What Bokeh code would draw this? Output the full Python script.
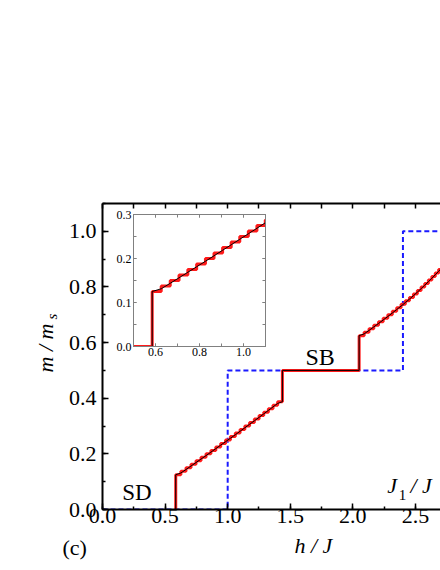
import math
from bokeh.plotting import figure
from bokeh.models import (Range1d, LinearAxis, SingleIntervalTicker, PrintfTickFormatter,
                          CustomJSTickFormatter, Label, InlineStyleSheet)
from bokeh.embed import file_html
from bokeh.resources import INLINE

# ---------------- data ----------------
h_start = 0.585
# lower branch: field at which each magnetization level starts, and the level
h_low = [0.585, 0.626, 0.667, 0.707, 0.747, 0.787, 0.827, 0.866, 0.905, 0.944, 0.983,
         1.022, 1.061, 1.099, 1.137, 1.175, 1.213, 1.251, 1.288, 1.325, 1.362, 1.399]
m_low = [0.125, 0.1375, 0.15, 0.1625, 0.175, 0.1875, 0.2, 0.2125, 0.225, 0.2375, 0.25,
         0.2625, 0.275, 0.2875, 0.3, 0.3125, 0.325, 0.3375, 0.35, 0.3625, 0.375, 0.3875]
h_half = 1.437
m_half = 0.5
# upper branch
h_up = [2.050, 2.090, 2.129, 2.167, 2.205, 2.242, 2.279, 2.315, 2.350, 2.385, 2.419,
        2.452, 2.484, 2.515, 2.545, 2.574, 2.603, 2.631, 2.658, 2.685, 2.711, 2.737]
m_up = [0.625, 0.6375, 0.65, 0.6625, 0.675, 0.6875, 0.7, 0.7125, 0.725, 0.7375, 0.75,
        0.7625, 0.775, 0.7875, 0.8, 0.8125, 0.825, 0.8375, 0.85, 0.8625, 0.875, 0.8875]
h_end = 2.76
# classical (blue dashed) curve
cl_h = [0.0, 1.0, 2.4, 2.76]
cl_m = [0.0, 0.5, 1.0, 1.0]

# staircase (red)
step_h = [h_start] + h_low + [h_half] + h_up + [h_end]
step_m = [0.0] + m_low + [m_half] + m_up + [m_up[-1]]
inset_step_h = [0.0] + step_h
inset_step_m = [0.0] + step_m
# smooth curve (black) through the middle of each riser
half = (m_low[1] - m_low[0]) / 2
line_h = [0.0, h_low[0], h_low[0]] + h_low[1:] + [h_half, h_half] + [h_up[0], h_up[0]] + h_up[1:]
line_m = ([0.0, 0.0, m_low[0]] + [m - half for m in m_low[1:]] + [m_low[-1], m_half]
          + [m_half, m_up[0]] + [m - half for m in m_up[1:]])

FONT = "Liberation Serif"
W, H = 440, 562

# ---------------- main figure ----------------
p = figure(width=W, height=H, x_range=Range1d(0, 2.70), y_range=Range1d(0, 1.1),
           output_backend="svg", toolbar_location=None,
           min_border_left=102, min_border_right=0, min_border_top=203, min_border_bottom=53)
p.grid.visible = False
p.outline_line_color = None
p.background_fill_color = "white"
p.border_fill_color = "white"

def style_axis(ax, size, standoff, tick_in=6, minor_in=3, width=2, color="black"):
    ax.axis_line_width = width
    ax.axis_line_color = color
    ax.major_tick_in = tick_in
    ax.major_tick_out = 0
    ax.minor_tick_in = minor_in
    ax.minor_tick_out = 0
    ax.major_tick_line_width = 1.5 if width >= 2 else 1
    ax.minor_tick_line_width = 1.5 if width >= 2 else 1
    ax.major_tick_line_color = color
    ax.minor_tick_line_color = color
    ax.major_label_text_font = FONT
    ax.major_label_text_font_size = size
    ax.major_label_text_color = "black"
    ax.major_label_standoff = standoff

xa = p.xaxis[0]
xa.ticker = SingleIntervalTicker(interval=0.5, num_minor_ticks=2)
xa.formatter = PrintfTickFormatter(format="%.1f")
style_axis(xa, "22px", -1)

ya = p.yaxis[0]
ya.ticker = SingleIntervalTicker(interval=0.2, num_minor_ticks=2)
ya.formatter = PrintfTickFormatter(format="%.1f")
style_axis(ya, "22px", 6)

top = LinearAxis(ticker=SingleIntervalTicker(interval=0.25, num_minor_ticks=2),
                 formatter=CustomJSTickFormatter(code="return ''"))
style_axis(top, "1px", 0, tick_in=5)
top.minor_tick_line_color = None
p.add_layout(top, "above")

p.step(cl_h, cl_m, mode="after", line_color="#1a1aff", line_width=2, line_dash="5 3")
p.step(step_h, step_m, mode="after", line_color="#ff1a1a", line_width=3)
p.line(line_h, line_m, line_color="black", line_width=1)

def lab(fig, x, y, text, size, style="normal", angle=0.0, align="left"):
    fig.add_layout(Label(x=x, y=y, text=text, text_font=FONT, text_font_size=size,
                         text_font_style=style, angle=angle, text_align=align,
                         text_baseline="alphabetic", text_color="black"))

lab(p, 1.621, 0.550, "SB", "24px")
lab(p, 0.157, 0.061, "SD", "23px")
lab(p, 2.274, 0.087, "J", "22px", "italic")
lab(p, 2.367, 0.053, "1", "15px")
lab(p, 2.46, 0.087, "/ J", "22px", "italic")

# ---------------- inset ----------------
css = ":host { position: absolute !important; left: 103px !important; top: 199px !important; }"
ins = figure(width=177, height=172, x_range=Range1d(0.5, 1.1), y_range=Range1d(0, 0.3001),
             output_backend="svg", toolbar_location=None,
             min_border_left=30, min_border_right=15, min_border_top=15, min_border_bottom=25,
             stylesheets=[InlineStyleSheet(css=css)])
ins.grid.visible = False
ins.background_fill_color = None
ins.border_fill_color = None
ins.outline_line_color = "#808080"
ins.outline_line_width = 1

ixa = ins.xaxis[0]
ixa.ticker = SingleIntervalTicker(interval=0.2, num_minor_ticks=2)
ixa.formatter = PrintfTickFormatter(format="%.1f")
style_axis(ixa, "12px", 1, tick_in=3, minor_in=3, width=1, color="#808080")
iya = ins.yaxis[0]
iya.ticker = SingleIntervalTicker(interval=0.1, num_minor_ticks=2)
iya.formatter = PrintfTickFormatter(format="%.1f")
style_axis(iya, "12px", 2, tick_in=3, minor_in=3, width=1, color="#808080")

itop = LinearAxis(ticker=SingleIntervalTicker(interval=0.2, num_minor_ticks=2),
                  formatter=CustomJSTickFormatter(code="return ''"))
style_axis(itop, "1px", 0, tick_in=3, minor_in=3, width=1, color="#808080")
ins.add_layout(itop, "above")
iright = LinearAxis(ticker=SingleIntervalTicker(interval=0.1, num_minor_ticks=2),
                    formatter=CustomJSTickFormatter(code="return ''"))
style_axis(iright, "1px", 0, tick_in=3, minor_in=3, width=1, color="#808080")
ins.add_layout(iright, "right")

ins.step(inset_step_h, inset_step_m, mode="after", line_color="#ff1a1a", line_width=3)
ins.line(line_h, line_m, line_color="black", line_width=1)

# ---------------- overlay for the texts outside the main frame ----------------
css2 = ":host { position: absolute !important; left: 0px !important; top: 0px !important; }"
ov = figure(width=W, height=H, x_range=Range1d(0, W), y_range=Range1d(H, 0),
            output_backend="svg", toolbar_location=None,
            x_axis_location=None, y_axis_location=None,
            min_border_left=0, min_border_right=0, min_border_top=0, min_border_bottom=0,
            stylesheets=[InlineStyleSheet(css=css2)])
ov.grid.visible = False
ov.background_fill_color = None
ov.border_fill_color = None
ov.outline_line_color = None

lab(ov, 62, 546.5, "(c)", "22px")
lab(ov, 294, 544.5, "h / J", "22px", "italic")
lab(ov, 45, 372, "m / m", "22px", "italic", angle=math.pi / 2)
lab(ov, 51.5, 319, "s", "15px", "italic", angle=math.pi / 2)

open("out.html", "w").write(file_html([p, ins, ov], INLINE))
